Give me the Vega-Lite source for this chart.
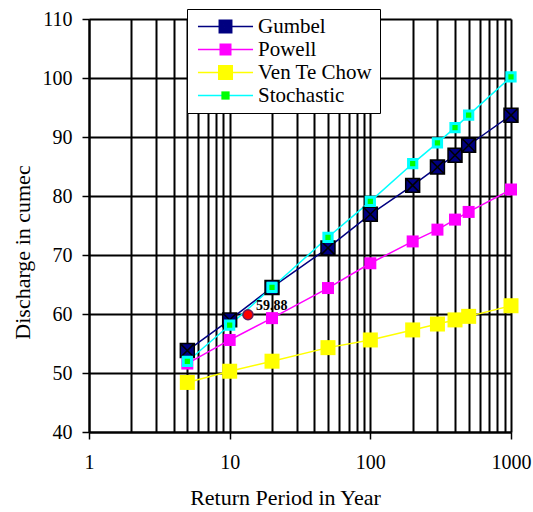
{
  "$schema": "https://vega.github.io/schema/vega-lite/v6.json",
  "width": 422,
  "height": 413,
  "autosize": "none",
  "padding": {"left": 89, "top": 19, "right": 22, "bottom": 80},
  "background": "white",
  "data": {
    "values": [
      {"series": "Gumbel", "T": 5, "Q": 53.8},
      {"series": "Gumbel", "T": 10, "Q": 59.0},
      {"series": "Gumbel", "T": 20, "Q": 64.5},
      {"series": "Gumbel", "T": 50, "Q": 71.2},
      {"series": "Gumbel", "T": 100, "Q": 76.9},
      {"series": "Gumbel", "T": 200, "Q": 81.8},
      {"series": "Gumbel", "T": 300, "Q": 84.9},
      {"series": "Gumbel", "T": 400, "Q": 86.9},
      {"series": "Gumbel", "T": 500, "Q": 88.6},
      {"series": "Gumbel", "T": 1000, "Q": 93.7},
      {"series": "Powell", "T": 5, "Q": 51.6},
      {"series": "Powell", "T": 10, "Q": 55.6},
      {"series": "Powell", "T": 20, "Q": 59.3},
      {"series": "Powell", "T": 50, "Q": 64.4},
      {"series": "Powell", "T": 100, "Q": 68.6},
      {"series": "Powell", "T": 200, "Q": 72.3},
      {"series": "Powell", "T": 300, "Q": 74.3},
      {"series": "Powell", "T": 400, "Q": 76.0},
      {"series": "Powell", "T": 500, "Q": 77.3},
      {"series": "Powell", "T": 1000, "Q": 81.1},
      {"series": "Ven Te Chow", "T": 5, "Q": 48.4},
      {"series": "Ven Te Chow", "T": 10, "Q": 50.3},
      {"series": "Ven Te Chow", "T": 20, "Q": 52.0},
      {"series": "Ven Te Chow", "T": 50, "Q": 54.3},
      {"series": "Ven Te Chow", "T": 100, "Q": 55.6},
      {"series": "Ven Te Chow", "T": 200, "Q": 57.3},
      {"series": "Ven Te Chow", "T": 300, "Q": 58.3},
      {"series": "Ven Te Chow", "T": 400, "Q": 59.0},
      {"series": "Ven Te Chow", "T": 500, "Q": 59.6},
      {"series": "Ven Te Chow", "T": 1000, "Q": 61.4},
      {"series": "Stochastic", "T": 5, "Q": 51.95},
      {"series": "Stochastic", "T": 10, "Q": 58.1},
      {"series": "Stochastic", "T": 20, "Q": 64.5},
      {"series": "Stochastic", "T": 50, "Q": 73.0},
      {"series": "Stochastic", "T": 100, "Q": 79.1},
      {"series": "Stochastic", "T": 200, "Q": 85.5},
      {"series": "Stochastic", "T": 300, "Q": 89.0},
      {"series": "Stochastic", "T": 400, "Q": 91.6},
      {"series": "Stochastic", "T": 500, "Q": 93.7},
      {"series": "Stochastic", "T": 1000, "Q": 100.2}
    ]
  },
  "encoding": {
    "x": {
      "field": "T",
      "type": "quantitative",
      "scale": {"type": "log", "domain": [1, 1000], "nice": false},
      "axis": {
        "values": [1, 2, 3, 4, 5, 6, 7, 8, 9, 10, 20, 30, 40, 50, 60, 70, 80, 90, 100, 200, 300, 400, 500, 600, 700, 800, 900, 1000],
        "labelExpr": "(datum.value == 1 || datum.value == 10 || datum.value == 100 || datum.value == 1000) ? format(datum.value, 'd') : ''",
        "tickOpacity": {"condition": {"test": "datum.value == 1 || datum.value == 10 || datum.value == 100 || datum.value == 1000", "value": 1}, "value": 0},
        "labelOverlap": false,
        "labelFlush": false,
        "labelPadding": 13,
        "title": "Return Period in Year",
        "titleX": 196,
        "titleY": 65,
        "titleAlign": "center",
        "titleBaseline": "middle"
      }
    },
    "y": {
      "field": "Q",
      "type": "quantitative",
      "scale": {"domain": [40, 110], "nice": false, "zero": false},
      "axis": {
        "values": [40, 50, 60, 70, 80, 90, 100, 110],
        "labelFlush": false,
        "labelPadding": 10,
        "title": "Discharge in cumec",
        "titleX": -67,
        "titleY": 233,
        "titleAlign": "center",
        "titleBaseline": "middle",
        "titleAngle": -90
      }
    }
  },
  "layer": [
    {
      "mark": {"type": "line", "strokeWidth": 1.5},
      "encoding": {
        "stroke": {
          "field": "series",
          "type": "nominal",
          "scale": {
            "domain": ["Gumbel", "Powell", "Ven Te Chow", "Stochastic"],
            "range": ["#000080", "#FF00FF", "#FFFF00", "#00FFFF"]
          },
          "legend": {
            "orient": "none",
            "legendX": 98,
            "legendY": -10,
            "title": null,
            "symbolType": "M-3.67,0H3.67",
            "symbolSize": 225,
            "symbolStrokeWidth": 1.5,
            "symbolOffset": 21,
            "labelFont": "Liberation Serif, Times New Roman, serif",
            "labelFontSize": 21,
            "labelColor": "black",
            "labelOffset": 22,
            "labelLimit": 0,
            "rowPadding": 1,
            "padding": 7,
            "fillColor": "white",
            "strokeColor": "black",
            "zindex": 1,
            "encode": {"legend": {"strokeWidth": {"value": 2}}}
          }
        }
      }
    },
    {
      "mark": {"type": "point", "filled": true, "size": 225, "opacity": 1},
      "encoding": {
        "fill": {
          "field": "series",
          "type": "nominal",
          "sort": null,
          "scale": {"range": ["#000080", "#FF00FF", "#FFFF00", "#00FF00"]},
          "legend": {
            "orient": "none",
            "legendX": 119,
            "legendY": -10,
            "title": null,
            "symbolSize": 225,
            "labelExpr": "' '",
            "labelFont": "Liberation Serif, Times New Roman, serif",
            "labelFontSize": 21,
            "labelColor": "transparent",
            "labelOffset": 6,
            "labelLimit": 0,
            "rowPadding": 1,
            "padding": 7,
            "zindex": 2,
            "encode": {
              "symbols": {
                "stroke": {"condition": [{"test": "datum.value === 'Gumbel'", "value": "black"}, {"test": "datum.value === 'Stochastic'", "value": "#00FFFF"}], "value": "transparent"},
                "strokeWidth": {"condition": {"test": "datum.value === 'Stochastic'", "value": 3}, "value": 1.5}
              }
            }
          }
        },
        "shape": {
          "field": "series",
          "type": "nominal",
          "sort": null,
          "scale": {
            "range": [
              "M-0.93,-0.93H0.93V0.93H-0.93Z M-0.93,-0.93L0.93,0.93 M0.93,-0.93L-0.93,0.93",
              "M-0.8,-0.8H0.8V0.8H-0.8Z",
              "M-1,-1H1V1H-1Z",
              "M-0.55,-0.55H0.55V0.55H-0.55Z"
            ]
          },
          "legend": {
            "orient": "none",
            "legendX": 119,
            "legendY": -10,
            "title": null,
            "symbolSize": 225,
            "labelExpr": "' '",
            "labelFont": "Liberation Serif, Times New Roman, serif",
            "labelFontSize": 21,
            "labelColor": "transparent",
            "labelOffset": 6,
            "labelLimit": 0,
            "rowPadding": 1,
            "padding": 7,
            "zindex": 2
          }
        },
        "stroke": {
          "condition": [
            {"test": "datum.series === 'Gumbel'", "value": "black"},
            {"test": "datum.series === 'Stochastic'", "value": "#00FFFF"}
          ],
          "value": null
        },
        "strokeWidth": {
          "condition": {"test": "datum.series === 'Stochastic'", "value": 3},
          "value": 1.5
        }
      }
    },
    {
      "data": {"values": [{"T": 13.5, "Q": 59.88, "label": "59.88"}]},
      "layer": [
        {
          "mark": {"type": "point", "shape": "circle", "filled": true, "size": 100, "fill": "#FF0000", "stroke": "#6A1B5A", "strokeWidth": 1.5, "opacity": 1}
        },
        {
          "mark": {"type": "text", "align": "left", "baseline": "middle", "dx": 8, "dy": -9, "font": "Liberation Serif, Times New Roman, serif", "fontSize": 14, "fontWeight": "bold", "color": "black"},
          "encoding": {"text": {"field": "label", "type": "nominal"}}
        }
      ]
    }
  ],
  "config": {
    "view": {"stroke": null},
    "font": "Liberation Serif, Times New Roman, serif",
    "axis": {
      "grid": true,
      "gridColor": "black",
      "gridWidth": 2,
      "gridOpacity": 1,
      "domainColor": "black",
      "domainWidth": 2,
      "tickColor": "black",
      "tickWidth": 1.5,
      "tickSize": 7,
      "labelFont": "Liberation Serif, Times New Roman, serif",
      "labelFontSize": 20,
      "labelColor": "black",
      "titleFont": "Liberation Serif, Times New Roman, serif",
      "titleFontSize": 22,
      "titleFontWeight": "normal",
      "titleColor": "black"
    }
  }
}
